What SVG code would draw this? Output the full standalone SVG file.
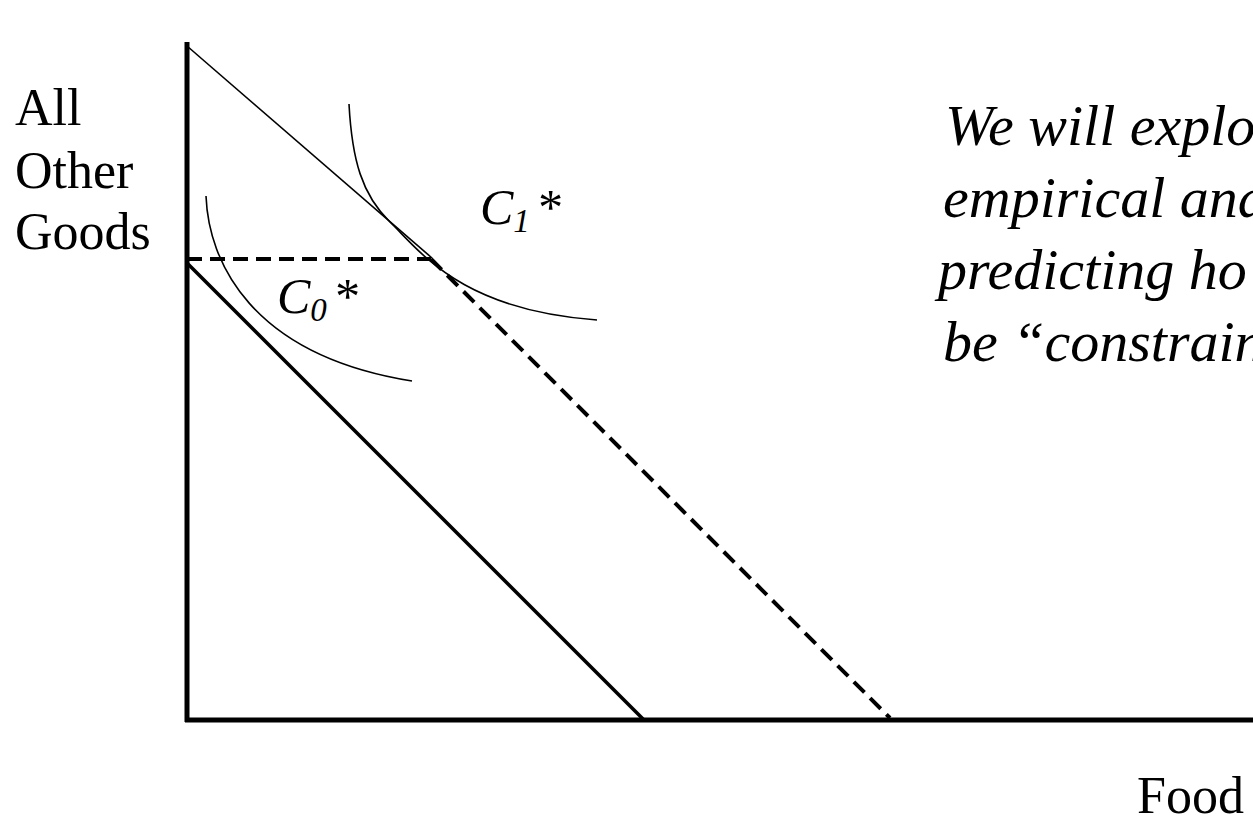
<svg xmlns="http://www.w3.org/2000/svg" width="1253" height="819" viewBox="0 0 1253 819">
<style>
.lbl{font-family:"Liberation Serif","Times New Roman",serif;fill:#000}
.it{font-style:italic}
.thin{fill:none;stroke:#000;stroke-width:1.6}
.thick{fill:none;stroke:#000;stroke-width:3.5}
.dash{fill:none;stroke:#000;stroke-width:4;stroke-dasharray:15 8}
.axis{fill:none;stroke:#000;stroke-width:5}
</style>
<rect width="1253" height="819" fill="#fff"/>
<g id="axes">
<line class="axis" x1="187" y1="42" x2="187" y2="722"/>
<line class="axis" x1="185" y1="720" x2="1253" y2="720"/>
</g>
<g id="connectors">
<line class="thin" x1="187" y1="46" x2="432" y2="258"/>
<line class="thick" x1="187" y1="263" x2="644" y2="720"/>
<line class="dash" x1="187" y1="259" x2="431" y2="259"/>
<line class="dash" x1="431" y1="259" x2="890" y2="718"/>
</g>
<g id="curve-c1">
<path class="thin" d="M349,104 C352,160 362,195 390,222 C420,251 460,310 597,320"/>
</g>
<g id="curve-c0">
<path class="thin" d="M206,196 C208.5,261 250,355 412,381"/>
</g>
<g id="label-c1">
<text class="lbl it" x="480" y="224" font-size="50">C<tspan font-size="33" dy="8">1</tspan><tspan dy="-8" dx="6">*</tspan></text>
</g>
<g id="label-c0">
<text class="lbl it" x="277" y="313" font-size="50">C<tspan font-size="33" dy="8">0</tspan><tspan dy="-8" dx="6">*</tspan></text>
</g>
<g id="y-label">
<text class="lbl" x="15" y="125" font-size="52">All</text>
<text class="lbl" x="15" y="188" font-size="52">Other</text>
<text class="lbl" x="15" y="249" font-size="52">Goods</text>
</g>
<g id="x-label">
<text class="lbl" x="1137" y="813" font-size="52">Food</text>
</g>
<g id="note">
<text class="lbl it" x="945" y="145" font-size="58">We will explo</text>
<text class="lbl it" x="943" y="217" font-size="58">empirical and</text>
<text class="lbl it" x="938" y="289" font-size="58">predicting ho</text>
<text class="lbl it" x="943" y="361" font-size="58">be “constrain</text>
</g>
</svg>
